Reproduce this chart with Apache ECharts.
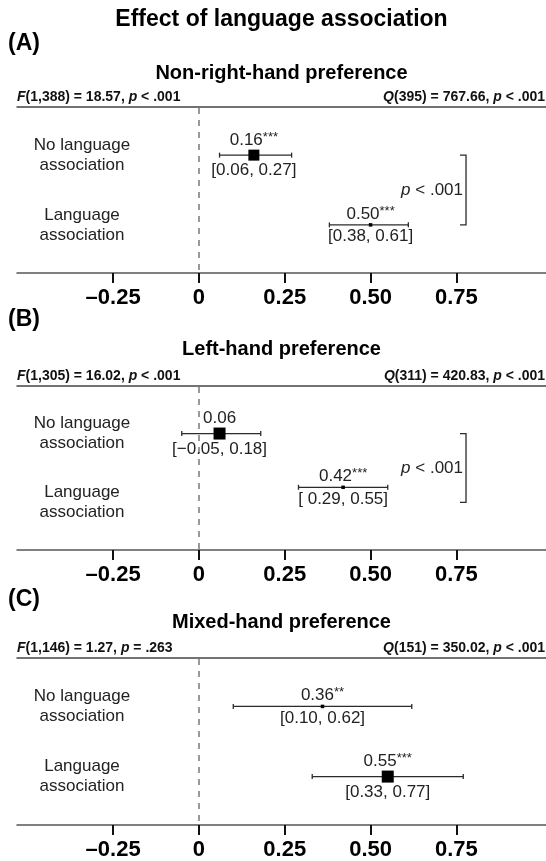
<!DOCTYPE html>
<html>
<head>
<meta charset="utf-8">
<script src="https://cdn.jsdelivr.net/npm/echarts@6/dist/echarts.min.js"></script>
<style>
  html, body { margin: 0; padding: 0; background: #fff; }
  #chart { width: 546px; height: 861px; }
</style>
</head>
<body>
<div id="chart"></div>
<script>
// ---- values ----
const rowLabels = ['No language\nassociation', 'Language\nassociation'];
const tickValues = [-0.25, 0, 0.25, 0.5, 0.75];
const tickLabels = ['\u20130.25', '0', '0.25', '0.50', '0.75'];

// (A) non-right-hand preference
const estA = [0.16, 0.50];
const lowA = [0.06, 0.38];
const highA = [0.27, 0.61];
const starsA = ['***', '***'];
const modTestA = ['1,388', '18.57', '< .001'];
const hetTestA = ['395', '767.66', '< .001'];
const groupDiffA = '< .001';

// (B) left-hand preference
const estB = [0.06, 0.42];
const lowB = [-0.05, 0.29];
const highB = [0.18, 0.55];
const starsB = ['', '***'];
const modTestB = ['1,305', '16.02', '< .001'];
const hetTestB = ['311', '420.83', '< .001'];
const groupDiffB = '< .001';

// (C) mixed-hand preference
const estC = [0.36, 0.55];
const lowC = [0.10, 0.33];
const highC = [0.62, 0.77];
const starsC = ['**', '***'];
const modTestC = ['1,146', '1.27', '= .263'];
const hetTestC = ['151', '350.02', '< .001'];
const groupDiffC = null;

// ---- layout and style ----
const FONT = '"Liberation Sans", Arial, Helvetica, sans-serif';
const INK = '#2b2b2b';
const W = 546;
const plotLeft = 17;

const panels = [
  { tag: '(A)', title: 'Non-right-hand preference', est: estA, low: lowA, high: highA, stars: starsA,
    mod: modTestA, het: hetTestA, diff: groupDiffA,
    top: 107, height: 166, tagY: 44, titleY: 73, statY: 97,
    markerPx: [11, 3.5], rowShift: [0, 0] },
  { tag: '(B)', title: 'Left-hand preference', est: estB, low: lowB, high: highB, stars: starsB,
    mod: modTestB, het: hetTestB, diff: groupDiffB,
    top: 386, height: 164, tagY: 320, titleY: 349, statY: 376,
    markerPx: [12, 3.5], rowShift: [0, -0.22] },
  { tag: '(C)', title: 'Mixed-hand preference', est: estC, low: lowC, high: highC, stars: starsC,
    mod: modTestC, het: hetTestC, diff: groupDiffC,
    top: 658, height: 167, tagY: 600, titleY: 622, statY: 648,
    markerPx: [3.5, 12], rowShift: [0, 0] }
];

const X_MIN = -0.53, X_MAX = 1.011;
const Y_MIN = 0.31, Y_MAX = 2.69;
const bracketAt = 0.778;

function fmt(v) {
  const s = Math.abs(v).toFixed(2);
  return (v < 0 ? '\u2212' : '') + s;
}

// lower bounds are padded to a common width inside a panel
function ciTexts(low, high) {
  const lo = low.map(fmt);
  const w = Math.max.apply(null, lo.map(s => s.length));
  return lo.map((s, i) => '[' + ' '.repeat(w - s.length) + s + ', ' + fmt(high[i]) + ']');
}

function forestRender(p) {
  const cis = ciTexts(p.low, p.high);
  return function (params, api) {
    const i = params.dataIndex;
    const y = api.value(3);
    const pE = api.coord([api.value(0), y]);
    const pL = api.coord([api.value(1), y]);
    const pH = api.coord([api.value(2), y]);
    const s = p.markerPx[i];
    const cap = 2.5;
    const ls = { stroke: INK, lineWidth: 1.3 };
    return {
      type: 'group',
      children: [
        { type: 'line', shape: { x1: pL[0], y1: pL[1], x2: pH[0], y2: pH[1] }, style: ls },
        { type: 'line', shape: { x1: pL[0], y1: pL[1] - cap, x2: pL[0], y2: pL[1] + cap }, style: ls },
        { type: 'line', shape: { x1: pH[0], y1: pH[1] - cap, x2: pH[0], y2: pH[1] + cap }, style: ls },
        { type: 'rect', shape: { x: pE[0] - s / 2, y: pE[1] - s / 2, width: s, height: s }, style: { fill: '#000' } },
        { type: 'text', x: pE[0], y: pE[1] - s / 2 - 9,
          style: {
            text: '{v|' + fmt(api.value(0)) + '}' + (p.stars[i] ? '{s|' + p.stars[i] + '}' : ''),
            align: 'center', verticalAlign: 'middle',
            rich: {
              v: { fontSize: 17, fontFamily: FONT, fill: '#222', lineHeight: 19 },
              s: { fontSize: 13, fontFamily: FONT, fill: '#222', verticalAlign: 'top', lineHeight: 19 }
            }
          } },
        { type: 'text', x: pE[0], y: pE[1] + s / 2 + 10,
          style: { text: cis[i], align: 'center', verticalAlign: 'middle', fontSize: 17, fontFamily: FONT, fill: '#222' } }
      ]
    };
  };
}

function zeroRender(params, api) {
  const cs = params.coordSys;
  const x = Math.round(api.coord([0, 1])[0]);
  return {
    type: 'line',
    shape: { x1: x, y1: cs.y + 1, x2: x, y2: cs.y + cs.height },
    style: { stroke: '#999', lineWidth: 2, lineDash: [6, 6] }
  };
}

function bracketRender(text) {
  return function (params, api) {
    const a = api.coord([api.value(0), api.value(1)]);
    const b = api.coord([api.value(0), api.value(2)]);
    return {
      type: 'group',
      children: [
        { type: 'polyline', shape: { points: [[a[0] - 6, a[1]], [a[0], a[1]], [b[0], b[1]], [b[0] - 6, b[1]]] },
          style: { stroke: INK, lineWidth: 1.3, fill: null } },
        { type: 'text', x: a[0] - 3, y: (a[1] + b[1]) / 2,
          style: {
            text: '{i|p}{r| ' + text + '}', align: 'right', verticalAlign: 'middle',
            rich: {
              i: { fontSize: 17, fontFamily: FONT, fontStyle: 'italic', fill: '#222' },
              r: { fontSize: 17, fontFamily: FONT, fill: '#222' }
            }
          } }
      ]
    };
  };
}

const grid = [], xAxis = [], yAxis = [], series = [], graphic = [];

graphic.push({
  type: 'text', x: (plotLeft + W) / 2, y: 20,
  style: { text: 'Effect of language association', font: 'bold 23px ' + FONT, fill: '#000', align: 'center', verticalAlign: 'middle' }
});

panels.forEach((p, k) => {
  grid.push({ left: plotLeft, right: 0, top: p.top, height: p.height });

  xAxis.push({
    gridIndex: k, type: 'value', min: X_MIN, max: X_MAX, position: 'bottom',
    axisLine: { show: true, onZero: false, lineStyle: { color: '#555', width: 1.5 } },
    axisTick: { show: true, length: 10, customValues: tickValues, lineStyle: { color: '#111', width: 2 } },
    axisLabel: {
      show: true, margin: 14, customValues: tickValues,
      fontSize: 22, fontWeight: 'bold', fontFamily: FONT, color: '#000',
      formatter: v => tickLabels[tickValues.findIndex(t => Math.abs(t - v) < 1e-9)]
    },
    splitLine: { show: false }
  });
  xAxis.push({
    gridIndex: k, type: 'value', min: X_MIN, max: X_MAX, position: 'top',
    axisLine: { show: true, onZero: false, lineStyle: { color: '#444', width: 1.5 } },
    axisTick: { show: false }, axisLabel: { show: false }, splitLine: { show: false }
  });
  yAxis.push({
    gridIndex: k, type: 'value', inverse: true, min: Y_MIN, max: Y_MAX,
    axisLine: { show: false }, axisTick: { show: false }, splitLine: { show: false },
    axisLabel: {
      show: true, inside: true, margin: 65, align: 'center', customValues: [1, 2],
      formatter: v => rowLabels[Math.round(v) - 1],
      fontSize: 17, lineHeight: 20, fontFamily: FONT, color: '#222'
    }
  });

  series.push({
    type: 'custom', xAxisIndex: 2 * k, yAxisIndex: k, silent: true, z: 1,
    data: [[0, 1]], encode: { x: 0, y: 1 }, renderItem: zeroRender
  });
  series.push({
    type: 'custom', xAxisIndex: 2 * k, yAxisIndex: k, silent: true, z: 3,
    data: p.est.map((e, i) => [e, p.low[i], p.high[i], i + 1 + p.rowShift[i]]),
    encode: { x: [0, 1, 2], y: 3 },
    renderItem: forestRender(p)
  });
  if (p.diff) {
    series.push({
      type: 'custom', xAxisIndex: 2 * k, yAxisIndex: k, silent: true, z: 3,
      data: [[bracketAt, 1, 2]], encode: { x: 0, y: [1, 2] },
      renderItem: bracketRender(p.diff)
    });
  }

  const statRich = {
    b: { fontSize: 14, fontWeight: 'bold', fontFamily: FONT, fill: '#111' },
    i: { fontSize: 14, fontWeight: 'bold', fontStyle: 'italic', fontFamily: FONT, fill: '#111' }
  };
  graphic.push(
    { type: 'text', x: 8, y: p.tagY,
      style: { text: p.tag, font: 'bold 23px ' + FONT, fill: '#000', align: 'left', verticalAlign: 'middle' } },
    { type: 'text', x: (plotLeft + W) / 2, y: p.titleY,
      style: { text: p.title, font: 'bold 20px ' + FONT, fill: '#000', align: 'center', verticalAlign: 'middle' } },
    { type: 'text', x: plotLeft, y: p.statY,
      style: { text: '{i|F}{b|(' + p.mod[0] + ') = ' + p.mod[1] + ', }{i|p}{b| ' + p.mod[2] + '}',
        align: 'left', verticalAlign: 'middle', rich: statRich } },
    { type: 'text', x: W - 1, y: p.statY,
      style: { text: '{i|Q}{b|(' + p.het[0] + ') = ' + p.het[1] + ', }{i|p}{b| ' + p.het[2] + '}',
        align: 'right', verticalAlign: 'middle', rich: statRich } }
  );
});

const chart = echarts.init(document.getElementById('chart'), null, { renderer: 'canvas' });
chart.setOption({
  animation: false,
  backgroundColor: '#fff',
  grid, xAxis, yAxis, series, graphic
});
</script>
</body>
</html>
